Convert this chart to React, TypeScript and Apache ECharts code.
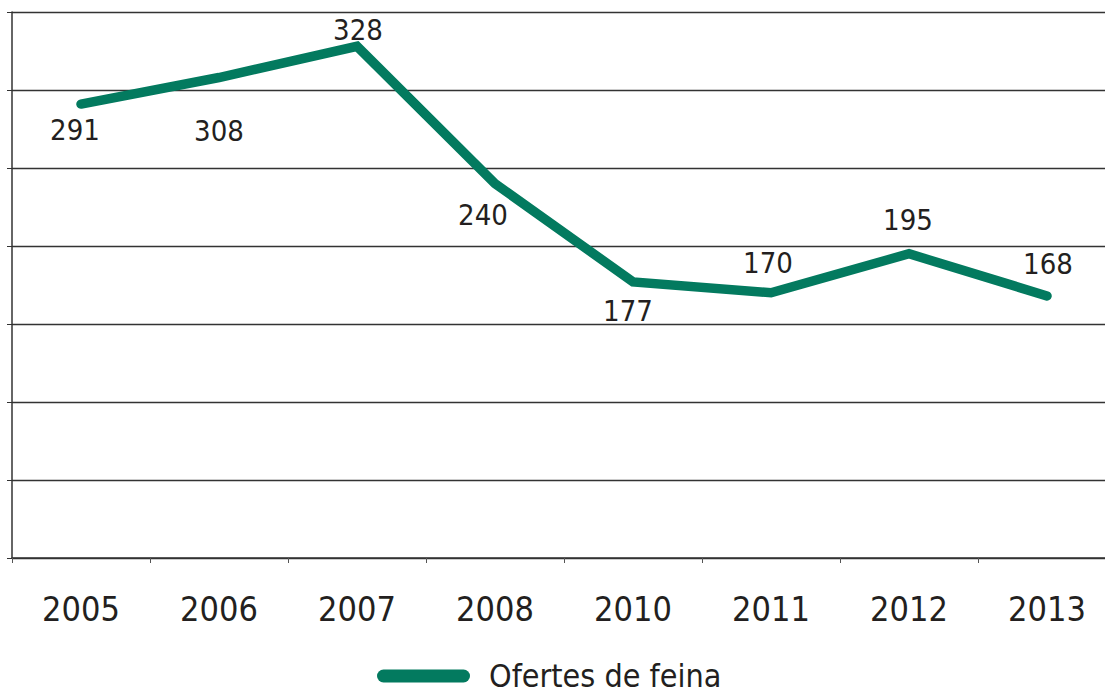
import React, { useEffect, useRef } from "react";
import * as echarts from "echarts";

const categories = ["2005", "2006", "2007", "2008", "2010", "2011", "2012", "2013"];
const values = [291, 308, 328, 240, 177, 170, 195, 168];
const seriesName = "Ofertes de feina";
const labelOffsets: [number, number][] = [
  [-6, 26], [0, 53], [1, -16], [-12, 31], [-5, 29], [-3, -30], [-1, -34], [1, -32],
];

const FONT = "'DejaVu Sans Condensed', 'Liberation Sans Narrow', sans-serif";
const GREEN = "#037a5f";
const TEXT = "#231f20";

export default function App() {
  const ref = useRef<HTMLDivElement>(null);
  useEffect(() => {
    document.body.style.margin = "0";
    const chart = echarts.init(ref.current!, null, { renderer: "svg" });
    chart.setOption({
      animation: false,
      backgroundColor: "#ffffff",
      grid: { left: 12, top: 12, right: 0, bottom: 137, containLabel: false },
      legend: {
        left: 377,
        top: 659,
        padding: 0,
        itemWidth: 93,
        itemHeight: 13,
        itemGap: 20,
        icon: "path://M6.5,0 H86.5 A6.5,6.5 0 0 1 86.5,13 H6.5 A6.5,6.5 0 0 1 6.5,0 Z",
        textStyle: { fontFamily: FONT, fontSize: 32, lineHeight: 34, color: TEXT, padding: [0, 0, 0, 14] },
        data: [seriesName],
      },
      xAxis: {
        type: "category",
        data: categories,
        boundaryGap: true,
        axisLine: { lineStyle: { color: "#333", width: 1.5 } },
        axisTick: { show: true, length: 5, lineStyle: { color: "#555" } },
        axisLabel: { fontFamily: FONT, fontSize: 34, color: TEXT, margin: 34 },
      },
      yAxis: {
        type: "value",
        min: 0,
        max: 350,
        interval: 50,
        axisLine: { show: true, lineStyle: { color: "#333", width: 1.5 } },
        axisTick: { show: true, length: 5, inside: false, lineStyle: { color: "#333" } },
        axisLabel: { show: false },
        splitLine: { show: true, lineStyle: { color: "#333", width: 1.4 } },
      },
      series: [
        {
          name: seriesName,
          type: "line",
          data: values.map((v, i) => ({
            value: v,
            label: { offset: labelOffsets[i] },
          })),
          symbol: "circle",
          symbolSize: 2,
          showSymbol: true,
          itemStyle: { color: GREEN },
          lineStyle: { color: GREEN, width: 9.5, cap: "round", join: "miter" },
          label: {
            show: true,
            position: "inside",
            fontFamily: FONT,
            fontSize: 29,
            color: TEXT,
          },
        },
      ],
    });
    return () => chart.dispose();
  }, []);
  return (
    <div style={{ width: 1105, height: 695, overflow: "hidden", position: "relative" }}>
      <div ref={ref} style={{ width: 1116, height: 695 }} />
    </div>
  );
}
